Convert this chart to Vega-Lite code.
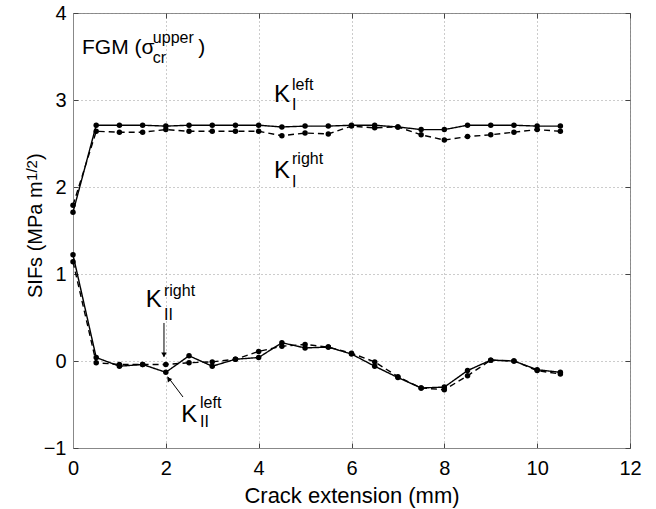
{
  "$schema": "https://vega.github.io/schema/vega-lite/v6.json",
  "width": 557,
  "height": 435,
  "autosize": "none",
  "padding": {"left": 73, "top": 13, "right": 26, "bottom": 61},
  "config": {
    "view": {"stroke": "#888", "strokeWidth": 1},
    "font": "Liberation Sans",
    "text": {"font": "Liberation Sans", "color": "#000"}
  },
  "datasets": {
    "sifs": [
      {"series": "KI_left", "style": "solid", "x": 0, "y": 1.71},
      {"series": "KI_left", "style": "solid", "x": 0.5, "y": 2.71},
      {"series": "KI_left", "style": "solid", "x": 1, "y": 2.71},
      {"series": "KI_left", "style": "solid", "x": 1.5, "y": 2.71},
      {"series": "KI_left", "style": "solid", "x": 2, "y": 2.70},
      {"series": "KI_left", "style": "solid", "x": 2.5, "y": 2.71},
      {"series": "KI_left", "style": "solid", "x": 3, "y": 2.71},
      {"series": "KI_left", "style": "solid", "x": 3.5, "y": 2.71},
      {"series": "KI_left", "style": "solid", "x": 4, "y": 2.71},
      {"series": "KI_left", "style": "solid", "x": 4.5, "y": 2.69},
      {"series": "KI_left", "style": "solid", "x": 5, "y": 2.70},
      {"series": "KI_left", "style": "solid", "x": 5.5, "y": 2.70},
      {"series": "KI_left", "style": "solid", "x": 6, "y": 2.71},
      {"series": "KI_left", "style": "solid", "x": 6.5, "y": 2.71},
      {"series": "KI_left", "style": "solid", "x": 7, "y": 2.69},
      {"series": "KI_left", "style": "solid", "x": 7.5, "y": 2.66},
      {"series": "KI_left", "style": "solid", "x": 8, "y": 2.66},
      {"series": "KI_left", "style": "solid", "x": 8.5, "y": 2.71},
      {"series": "KI_left", "style": "solid", "x": 9, "y": 2.71},
      {"series": "KI_left", "style": "solid", "x": 9.5, "y": 2.71},
      {"series": "KI_left", "style": "solid", "x": 10, "y": 2.70},
      {"series": "KI_left", "style": "solid", "x": 10.5, "y": 2.70},
      {"series": "KI_right", "style": "dashed", "x": 0, "y": 1.79},
      {"series": "KI_right", "style": "dashed", "x": 0.5, "y": 2.64},
      {"series": "KI_right", "style": "dashed", "x": 1, "y": 2.63},
      {"series": "KI_right", "style": "dashed", "x": 1.5, "y": 2.63},
      {"series": "KI_right", "style": "dashed", "x": 2, "y": 2.66},
      {"series": "KI_right", "style": "dashed", "x": 2.5, "y": 2.64},
      {"series": "KI_right", "style": "dashed", "x": 3, "y": 2.64},
      {"series": "KI_right", "style": "dashed", "x": 3.5, "y": 2.64},
      {"series": "KI_right", "style": "dashed", "x": 4, "y": 2.64},
      {"series": "KI_right", "style": "dashed", "x": 4.5, "y": 2.59},
      {"series": "KI_right", "style": "dashed", "x": 5, "y": 2.62},
      {"series": "KI_right", "style": "dashed", "x": 5.5, "y": 2.61},
      {"series": "KI_right", "style": "dashed", "x": 6, "y": 2.70},
      {"series": "KI_right", "style": "dashed", "x": 6.5, "y": 2.68},
      {"series": "KI_right", "style": "dashed", "x": 7, "y": 2.69},
      {"series": "KI_right", "style": "dashed", "x": 7.5, "y": 2.60},
      {"series": "KI_right", "style": "dashed", "x": 8, "y": 2.54},
      {"series": "KI_right", "style": "dashed", "x": 8.5, "y": 2.58},
      {"series": "KI_right", "style": "dashed", "x": 9, "y": 2.60},
      {"series": "KI_right", "style": "dashed", "x": 9.5, "y": 2.63},
      {"series": "KI_right", "style": "dashed", "x": 10, "y": 2.66},
      {"series": "KI_right", "style": "dashed", "x": 10.5, "y": 2.64},
      {"series": "KII_left", "style": "solid", "x": 0, "y": 1.22},
      {"series": "KII_left", "style": "solid", "x": 0.5, "y": 0.04},
      {"series": "KII_left", "style": "solid", "x": 1, "y": -0.06},
      {"series": "KII_left", "style": "solid", "x": 1.5, "y": -0.04},
      {"series": "KII_left", "style": "solid", "x": 2, "y": -0.13},
      {"series": "KII_left", "style": "solid", "x": 2.5, "y": 0.06},
      {"series": "KII_left", "style": "solid", "x": 3, "y": -0.06},
      {"series": "KII_left", "style": "solid", "x": 3.5, "y": 0.02},
      {"series": "KII_left", "style": "solid", "x": 4, "y": 0.04},
      {"series": "KII_left", "style": "solid", "x": 4.5, "y": 0.21},
      {"series": "KII_left", "style": "solid", "x": 5, "y": 0.15},
      {"series": "KII_left", "style": "solid", "x": 5.5, "y": 0.16},
      {"series": "KII_left", "style": "solid", "x": 6, "y": 0.08},
      {"series": "KII_left", "style": "solid", "x": 6.5, "y": -0.06},
      {"series": "KII_left", "style": "solid", "x": 7, "y": -0.19},
      {"series": "KII_left", "style": "solid", "x": 7.5, "y": -0.31},
      {"series": "KII_left", "style": "solid", "x": 8, "y": -0.30},
      {"series": "KII_left", "style": "solid", "x": 8.5, "y": -0.11},
      {"series": "KII_left", "style": "solid", "x": 9, "y": 0.01},
      {"series": "KII_left", "style": "solid", "x": 9.5, "y": 0.00},
      {"series": "KII_left", "style": "solid", "x": 10, "y": -0.10},
      {"series": "KII_left", "style": "solid", "x": 10.5, "y": -0.13},
      {"series": "KII_right", "style": "dashed", "x": 0, "y": 1.14},
      {"series": "KII_right", "style": "dashed", "x": 0.5, "y": -0.02},
      {"series": "KII_right", "style": "dashed", "x": 1, "y": -0.04},
      {"series": "KII_right", "style": "dashed", "x": 1.5, "y": -0.04},
      {"series": "KII_right", "style": "dashed", "x": 2, "y": -0.04},
      {"series": "KII_right", "style": "dashed", "x": 2.5, "y": -0.02},
      {"series": "KII_right", "style": "dashed", "x": 3, "y": -0.01},
      {"series": "KII_right", "style": "dashed", "x": 3.5, "y": 0.02},
      {"series": "KII_right", "style": "dashed", "x": 4, "y": 0.11},
      {"series": "KII_right", "style": "dashed", "x": 4.5, "y": 0.17},
      {"series": "KII_right", "style": "dashed", "x": 5, "y": 0.19},
      {"series": "KII_right", "style": "dashed", "x": 5.5, "y": 0.16},
      {"series": "KII_right", "style": "dashed", "x": 6, "y": 0.09},
      {"series": "KII_right", "style": "dashed", "x": 6.5, "y": -0.01},
      {"series": "KII_right", "style": "dashed", "x": 7, "y": -0.18},
      {"series": "KII_right", "style": "dashed", "x": 7.5, "y": -0.31},
      {"series": "KII_right", "style": "dashed", "x": 8, "y": -0.33},
      {"series": "KII_right", "style": "dashed", "x": 8.5, "y": -0.17},
      {"series": "KII_right", "style": "dashed", "x": 9, "y": 0.01},
      {"series": "KII_right", "style": "dashed", "x": 9.5, "y": 0.00},
      {"series": "KII_right", "style": "dashed", "x": 10, "y": -0.11},
      {"series": "KII_right", "style": "dashed", "x": 10.5, "y": -0.15}
    ],
    "labels": [
      {"kind": "main", "x": 0.194, "y": 3.529, "text": "FGM (σ"},
      {"kind": "mainscript", "x": 1.72, "y": 3.66, "text": "upper"},
      {"kind": "mainscript", "x": 1.72, "y": 3.425, "text": "cr"},
      {"kind": "main", "x": 2.7, "y": 3.529, "text": ")"},
      {"kind": "K", "x": 4.33, "y": 2.977, "text": "K"},
      {"kind": "script", "x": 4.718, "y": 3.115, "text": "left"},
      {"kind": "script", "x": 4.718, "y": 2.885, "text": "I"},
      {"kind": "K", "x": 4.33, "y": 2.103, "text": "K"},
      {"kind": "script", "x": 4.718, "y": 2.264, "text": "right"},
      {"kind": "script", "x": 4.718, "y": 2.0, "text": "I"},
      {"kind": "K", "x": 1.57, "y": 0.621, "text": "K"},
      {"kind": "script", "x": 1.96, "y": 0.747, "text": "right"},
      {"kind": "script", "x": 1.96, "y": 0.471, "text": "II"},
      {"kind": "K", "x": 2.33, "y": -0.701, "text": "K"},
      {"kind": "script", "x": 2.736, "y": -0.540, "text": "left"},
      {"kind": "script", "x": 2.736, "y": -0.759, "text": "II"},
      {"kind": "ytitle", "x": -0.668, "y": 0.724, "text": "SIFs (MPa m"},
      {"kind": "ytitlescript", "x": -0.776, "y": 2.07, "text": "1/2"},
      {"kind": "ytitle", "x": -0.668, "y": 2.31, "text": ")"}
    ],
    "arrows": [
      {"id": "right", "x": 1.96, "y": 0.437, "x2": 1.96, "y2": 0.05},
      {"id": "left", "x": 2.37, "y": -0.414, "x2": 2.04, "y2": -0.18}
    ],
    "heads": [
      {"id": "right", "x": 1.96, "y": 0.07},
      {"id": "left", "x": 2.06, "y": -0.205}
    ]
  },
  "layer": [
    {
      "data": {"name": "sifs"},
      "mark": {"type": "line", "color": "#000", "strokeWidth": 1.4},
      "encoding": {
        "x": {
          "field": "x", "type": "quantitative",
          "scale": {"domain": [0, 12], "nice": false},
          "axis": {
            "orient": "bottom", "values": [0, 2, 4, 6, 8, 10, 12], "format": "d",
            "grid": true, "gridDash": [1, 3], "gridColor": "#999", "gridWidth": 1,
            "domainColor": "#888", "tickColor": "#444", "tickSize": -5,
            "labelFontSize": 20, "labelColor": "#000", "labelPadding": 15, "labelFlush": false,
            "labelFont": "Liberation Sans",
            "title": "Crack extension (mm)", "titleFontSize": 22, "titleFontWeight": "normal",
            "titleColor": "#000", "titleFont": "Liberation Sans", "titlePadding": 7
          }
        },
        "y": {
          "field": "y", "type": "quantitative",
          "scale": {"domain": [-1, 4], "nice": false},
          "axis": {
            "orient": "left", "values": [-1, 0, 1, 2, 3, 4], "format": "d",
            "grid": true, "gridDash": [1, 3], "gridColor": "#999", "gridWidth": 1,
            "domainColor": "#888", "tickColor": "#444", "tickSize": -5,
            "labelFontSize": 20, "labelColor": "#000", "labelPadding": 12,
            "labelFont": "Liberation Sans", "title": null
          }
        },
        "detail": {"field": "series", "type": "nominal"},
        "strokeDash": {
          "field": "style", "type": "nominal",
          "scale": {"domain": ["solid", "dashed"], "range": [[1, 0], [6, 4]]},
          "legend": null
        }
      }
    },
    {
      "data": {"name": "sifs"},
      "mark": {"type": "circle", "color": "#000", "size": 30, "opacity": 1},
      "encoding": {
        "x": {"field": "x", "type": "quantitative", "scale": {"domain": [0, 12], "nice": false}, "axis": null},
        "y": {"field": "y", "type": "quantitative", "scale": {"domain": [-1, 4], "nice": false}, "axis": null}
      }
    },
    {
      "data": {"name": "sifs"},
      "mark": {"type": "circle", "opacity": 0},
      "encoding": {
        "x": {
          "field": "x", "type": "quantitative", "scale": {"domain": [0, 12], "nice": false},
          "axis": {"orient": "top", "values": [0, 2, 4, 6, 8, 10, 12], "labels": false, "grid": false,
                   "domain": false, "tickColor": "#444", "tickSize": -5, "title": null}
        },
        "y": {
          "field": "y", "type": "quantitative", "scale": {"domain": [-1, 4], "nice": false},
          "axis": {"orient": "right", "values": [-1, 0, 1, 2, 3, 4], "labels": false, "grid": false,
                   "domain": false, "tickColor": "#444", "tickSize": -5, "title": null}
        }
      }
    },
    {
      "data": {"name": "arrows"},
      "mark": {"type": "rule", "color": "#000", "strokeWidth": 1},
      "encoding": {
        "x": {"field": "x", "type": "quantitative", "scale": {"domain": [0, 12], "nice": false}, "axis": null},
        "y": {"field": "y", "type": "quantitative", "scale": {"domain": [-1, 4], "nice": false}, "axis": null},
        "x2": {"field": "x2"},
        "y2": {"field": "y2"}
      }
    },
    {
      "data": {"name": "heads"},
      "transform": [{"filter": "datum.id === 'right'"}],
      "mark": {"type": "point", "shape": "triangle-down", "filled": true, "color": "#000", "size": 30, "opacity": 1},
      "encoding": {
        "x": {"field": "x", "type": "quantitative", "scale": {"domain": [0, 12], "nice": false}, "axis": null},
        "y": {"field": "y", "type": "quantitative", "scale": {"domain": [-1, 4], "nice": false}, "axis": null}
      }
    },
    {
      "data": {"name": "heads"},
      "transform": [{"filter": "datum.id === 'left'"}],
      "mark": {"type": "point", "shape": "triangle-up", "angle": -37, "filled": true, "color": "#000", "size": 30, "opacity": 1},
      "encoding": {
        "x": {"field": "x", "type": "quantitative", "scale": {"domain": [0, 12], "nice": false}, "axis": null},
        "y": {"field": "y", "type": "quantitative", "scale": {"domain": [-1, 4], "nice": false}, "axis": null}
      }
    },
    {
      "data": {"name": "labels"},
      "transform": [{"filter": "datum.kind === 'main'"}],
      "mark": {"type": "text", "align": "left", "baseline": "alphabetic", "fontSize": 21, "font": "Liberation Sans", "color": "#000"},
      "encoding": {
        "x": {"field": "x", "type": "quantitative", "scale": {"domain": [0, 12], "nice": false}, "axis": null},
        "y": {"field": "y", "type": "quantitative", "scale": {"domain": [-1, 4], "nice": false}, "axis": null},
        "text": {"field": "text"}
      }
    },
    {
      "data": {"name": "labels"},
      "transform": [{"filter": "datum.kind === 'mainscript'"}],
      "mark": {"type": "text", "align": "left", "baseline": "alphabetic", "fontSize": 16, "font": "Liberation Sans", "color": "#000"},
      "encoding": {
        "x": {"field": "x", "type": "quantitative", "scale": {"domain": [0, 12], "nice": false}, "axis": null},
        "y": {"field": "y", "type": "quantitative", "scale": {"domain": [-1, 4], "nice": false}, "axis": null},
        "text": {"field": "text"}
      }
    },
    {
      "data": {"name": "labels"},
      "transform": [{"filter": "datum.kind === 'K'"}],
      "mark": {"type": "text", "align": "left", "baseline": "alphabetic", "fontSize": 24, "font": "Liberation Sans", "color": "#000"},
      "encoding": {
        "x": {"field": "x", "type": "quantitative", "scale": {"domain": [0, 12], "nice": false}, "axis": null},
        "y": {"field": "y", "type": "quantitative", "scale": {"domain": [-1, 4], "nice": false}, "axis": null},
        "text": {"field": "text"}
      }
    },
    {
      "data": {"name": "labels"},
      "transform": [{"filter": "datum.kind === 'script'"}],
      "mark": {"type": "text", "align": "left", "baseline": "alphabetic", "fontSize": 16, "font": "Liberation Sans", "color": "#000"},
      "encoding": {
        "x": {"field": "x", "type": "quantitative", "scale": {"domain": [0, 12], "nice": false}, "axis": null},
        "y": {"field": "y", "type": "quantitative", "scale": {"domain": [-1, 4], "nice": false}, "axis": null},
        "text": {"field": "text"}
      }
    },
    {
      "data": {"name": "labels"},
      "transform": [{"filter": "datum.kind === 'ytitle'"}],
      "mark": {"type": "text", "align": "left", "baseline": "alphabetic", "angle": 270, "fontSize": 20, "font": "Liberation Sans", "color": "#000"},
      "encoding": {
        "x": {"field": "x", "type": "quantitative", "scale": {"domain": [0, 12], "nice": false}, "axis": null},
        "y": {"field": "y", "type": "quantitative", "scale": {"domain": [-1, 4], "nice": false}, "axis": null},
        "text": {"field": "text"}
      }
    },
    {
      "data": {"name": "labels"},
      "transform": [{"filter": "datum.kind === 'ytitlescript'"}],
      "mark": {"type": "text", "align": "left", "baseline": "alphabetic", "angle": 270, "fontSize": 15, "font": "Liberation Sans", "color": "#000"},
      "encoding": {
        "x": {"field": "x", "type": "quantitative", "scale": {"domain": [0, 12], "nice": false}, "axis": null},
        "y": {"field": "y", "type": "quantitative", "scale": {"domain": [-1, 4], "nice": false}, "axis": null},
        "text": {"field": "text"}
      }
    }
  ],
  "resolve": {"axis": {"x": "independent", "y": "independent"}}
}
